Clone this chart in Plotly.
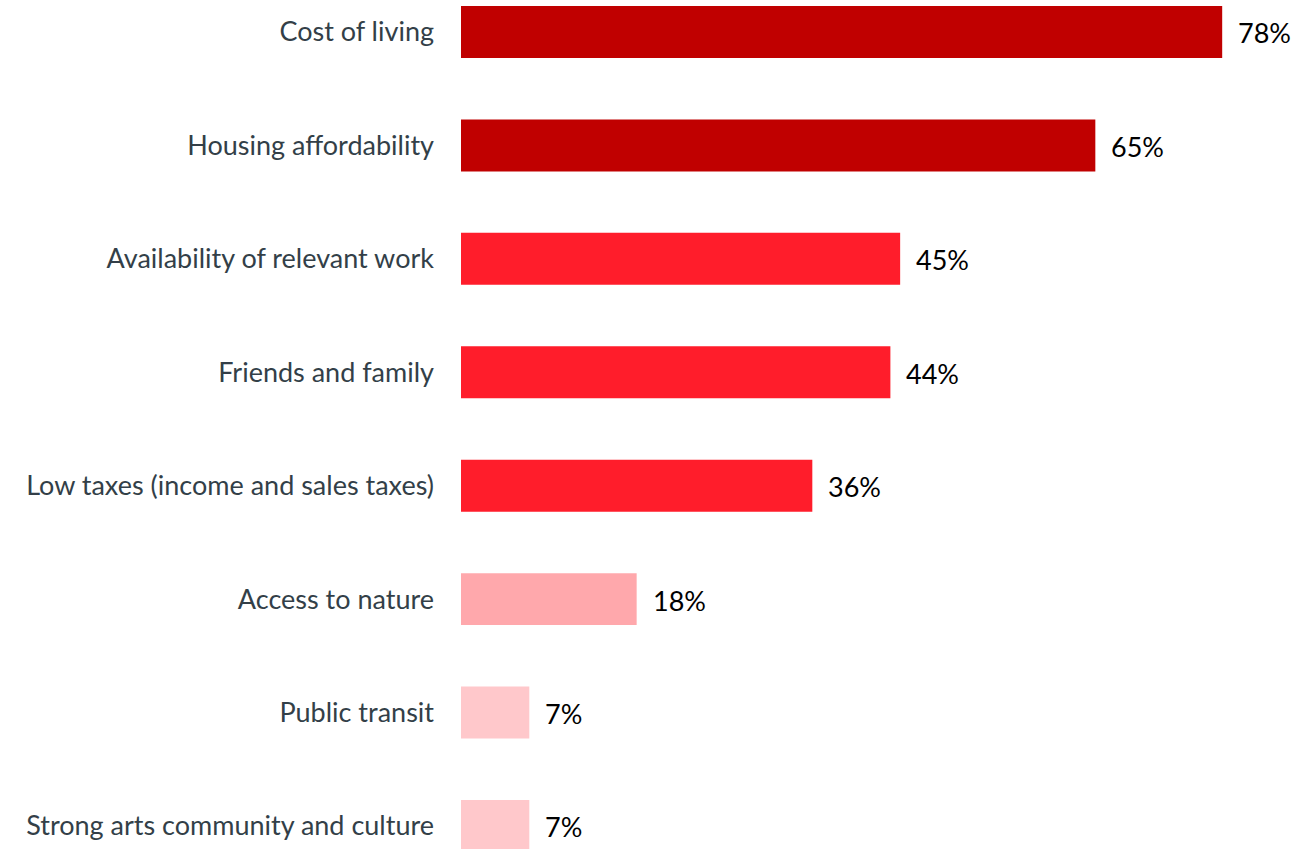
import plotly.graph_objects as go

categories = [
    "Cost of living",
    "Housing affordability",
    "Availability of relevant work",
    "Friends and family",
    "Low taxes (income and sales taxes)",
    "Access to nature",
    "Public transit",
    "Strong arts community and culture",
]
values = [78, 65, 45, 44, 36, 18, 7, 7]
colors = [
    "#C00000", "#C00000",
    "#FF1D2B", "#FF1D2B", "#FF1D2B",
    "#FFA8AC",
    "#FFC8CB", "#FFC8CB",
]

FONT = "Lato, Open Sans, sans-serif"

fig = go.Figure()
fig.add_trace(go.Bar(
    x=values,
    y=categories,
    orientation="h",
    marker=dict(color=colors, line=dict(width=0)),
    width=0.458,
    hoverinfo="skip",
))

# value labels just past the end of each bar
for cat, val in zip(categories, values):
    fig.add_annotation(
        x=val, y=cat, text=f"{val}%",
        xanchor="left", yanchor="middle", xshift=14, yshift=-1,
        showarrow=False,
        font=dict(family=FONT, size=27, color="#000000"),
    )

fig.update_layout(
    width=1311, height=849,
    margin=dict(l=461, r=0, t=0, b=0),
    paper_bgcolor="white", plot_bgcolor="white",
    showlegend=False,
    xaxis=dict(range=[0, 87.1], visible=False, showgrid=False, zeroline=False),
    yaxis=dict(
        type="category",
        range=[7.203, -0.282],
        showgrid=False, zeroline=False, showline=False,
        ticks="", ticklabelstandoff=26,
        tickfont=dict(family=FONT, size=27, color="#333F48"),
    ),
)

fig.write_html("out.html")
